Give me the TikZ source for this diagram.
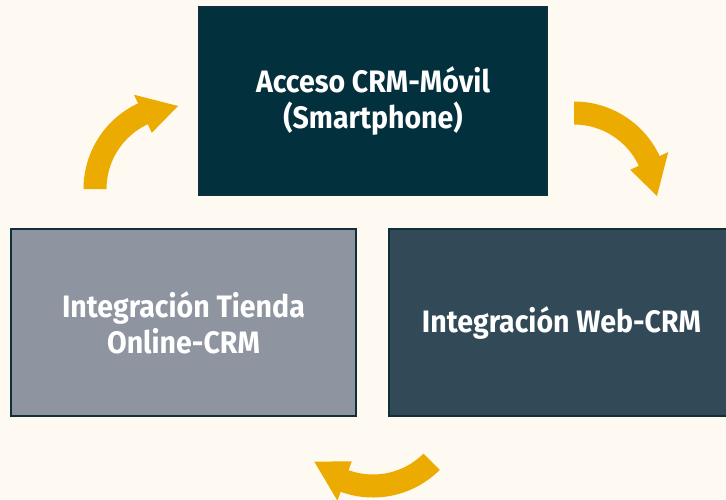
\documentclass[tikz,border=0pt]{standalone}
\usepackage{fontspec}
\setmainfont{Fira Sans}[FakeStretch=0.92]
\usepackage{tikz}

\definecolor{bgcream}{HTML}{FEFAF2}
\definecolor{topteal}{HTML}{03303D}
\definecolor{webslate}{HTML}{324A58}
\definecolor{shopgrey}{HTML}{8F95A0}
\definecolor{edgeteal}{HTML}{0F2F3B}
\definecolor{arrowgold}{HTML}{EBAB00}

\tikzset{
  stage/.style={draw=edgeteal, line width=2pt, text=white, align=center,
    font=\bfseries\fontsize{31}{36}\selectfont, inner sep=0pt},
  cyclearrow/.style={fill=arrowgold}
}

% curved arrow around a centre, from angle #2 to tip angle #3
\newcommand{\turnarrow}[3]{%
  \fill[cyclearrow, shift={(#1)}] (#2:94.5) arc[start angle=#2, end angle=#3-25, radius=94.5]
    -- (#3-25:104) -- (#3:83) -- (#3-25:62) -- (#3-25:71.5)
    arc[start angle=#3-25, end angle=#2, radius=71.5] -- cycle;}

\begin{document}
\begin{tikzpicture}[x=1pt, y=-1pt]
        
        \useasboundingbox (0,0) rectangle (726,499);
        \fill[bgcream] (0,0) rectangle (726,499);
        \clip (0,0) rectangle (726,499);
        
        \node[stage, fill=topteal, minimum width=348, minimum height=188] (movil) at (373,101) {Acceso CRM-Móvil\\(Smartphone)};
        \node[stage, fill=webslate, minimum width=345, minimum height=187] (web) at (561.5,322.5) {Integración Web-CRM};
        \node[stage, fill=shopgrey, minimum width=345, minimum height=187] (tienda) at (183.5,322.5) {Integración Tienda\\Online-CRM};
        
        \coordinate (leftturn) at (178,189);
        \coordinate (rightturn) at (574,196);
        \coordinate (bottomturn) at (373,403);
        
        \turnarrow{leftturn}{180}{270}
        \turnarrow{rightturn}{270}{360}
        \turnarrow{bottomturn}{45}{135}
        
        \end{tikzpicture}
\end{document}
